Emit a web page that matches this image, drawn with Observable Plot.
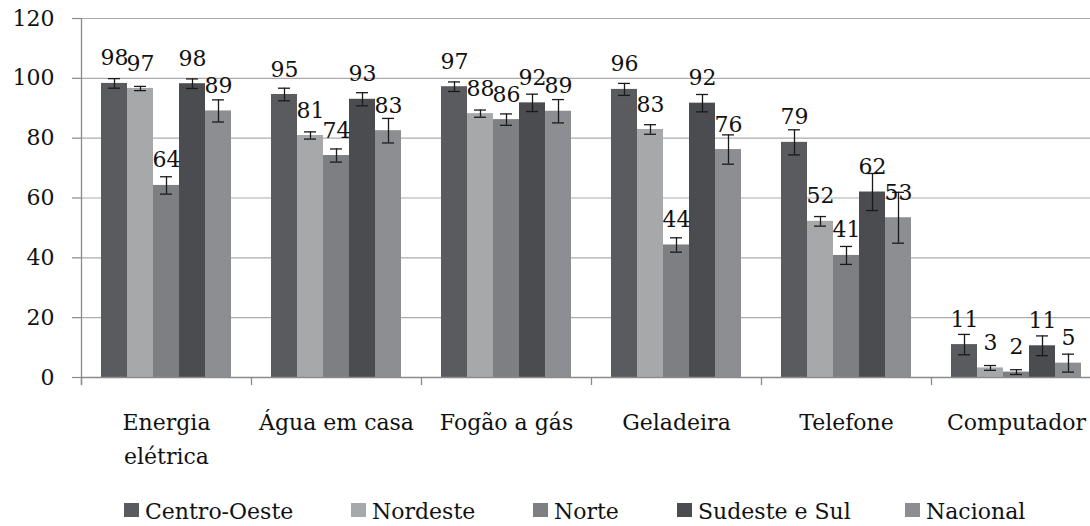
<!DOCTYPE html>
<html>
<head>
<meta charset="utf-8">
<script src="https://cdn.jsdelivr.net/npm/d3@7"></script>
<script src="https://cdn.jsdelivr.net/npm/@observablehq/plot@0.6"></script>
<style>
  html, body { margin: 0; padding: 0; background: #fff; overflow: hidden; width: 1090px; height: 526px; position: relative; }
  #chart { position: absolute; left: 0; top: 0; }
  #chart svg { display: block; }
  #legend { position: absolute; left: 0; top: 499px; width: 1090px; height: 27px; font-family: "DejaVu Serif", serif; font-size: 22px; line-height: 26px; color: #111; }
  #legend .item { position: absolute; top: 0; white-space: nowrap; }
  #legend .sw { position: absolute; left: 0; top: 4px; width: 15px; height: 14px; }
  #legend .tx { position: absolute; left: 21px; top: 0; }
</style>
</head>
<body>
<div id="chart"></div>
<div id="legend"></div>
<script>
const categories = ["Energia\nelétrica", "Água em casa", "Fogão a gás", "Geladeira", "Telefone", "Computador"];
const regions = ["Centro-Oeste", "Nordeste", "Norte", "Sudeste e Sul", "Nacional"];
const regionColors = ["#5a5b5f", "#a7a8aa", "#7e7f83", "#4b4c50", "#8d8e92"];

// values per region, in category order
const centroOeste = [98.3, 94.6, 97.2, 96.3, 78.6, 11.0];
const nordeste    = [96.6, 80.9, 88.2, 82.9, 52.2, 3.2];
const norte       = [64.2, 74.2, 86.2, 44.3, 40.8, 1.8];
const sudesteSul  = [98.2, 93.0, 91.8, 91.7, 62.0, 10.6];
const nacional    = [89.1, 82.5, 89.0, 76.2, 53.4, 4.8];

// error bar half-widths per region
const errCentroOeste = [1.6, 2.1, 1.6, 2.0, 4.2, 3.4];
const errNordeste    = [0.7, 1.2, 1.2, 1.6, 1.6, 0.8];
const errNorte       = [2.9, 2.2, 1.9, 2.4, 3.0, 0.8];
const errSudesteSul  = [1.6, 2.2, 2.9, 2.9, 6.2, 3.3];
const errNacional    = [3.7, 4.1, 3.9, 4.9, 8.5, 3.0];

const yTicks = [0, 20, 40, 60, 80, 100, 120];

const seriesValues = [centroOeste, nordeste, norte, sudesteSul, nacional];
const seriesErrors = [errCentroOeste, errNordeste, errNorte, errSudesteSul, errNacional];

const rows = [];
categories.forEach((cat, i) => {
  regions.forEach((reg, j) => {
    const v = seriesValues[j][i], e = seriesErrors[j][i];
    rows.push({cat, region: reg, value: v, lo: v - e, hi: v + e, label: String(Math.round(v))});
  });
});

const font = "DejaVu Serif";
const axisGray = "#8a8a8a";
const gridGray = "#ababab";
const tickLen = 2.7; // in y units (~8px)

const chart = Plot.plot({
  width: 1102,
  height: 488,
  marginLeft: 81,
  marginRight: 1,
  marginTop: 18,
  marginBottom: 111,
  style: {fontFamily: font, fontSize: "22px", color: "#111", background: "#fff", maxWidth: "none", overflow: "visible"},
  fx: {domain: categories, padding: 0, label: null, round: false},
  x: {domain: regions, paddingInner: 0, paddingOuter: 0.769, round: false, axis: null},
  y: {domain: [0, 120], label: null},
  color: {domain: regions, range: regionColors},
  marks: [
    Plot.gridY(yTicks, {stroke: gridGray, strokeOpacity: 1, strokeWidth: 1.2}),
    Plot.axisY(yTicks, {tickSize: 9, tickPadding: 18, stroke: axisGray, strokeWidth: 1.2, fontSize: 22, fill: "#111", label: null}),
    Plot.barY(rows, {fx: "cat", x: "region", y: "value", fill: "region"}),
    Plot.ruleY([0], {stroke: axisGray, strokeWidth: 1.3}),
    // group separator ticks below the axis
    Plot.ruleX(categories, {fx: d => d, x: () => regions[0], y1: 0, y2: -tickLen, dx: -33, stroke: axisGray, strokeWidth: 1.3}),
    // vertical y-axis line
    Plot.ruleX([categories[0]], {fx: d => d, x: () => regions[0], y1: -tickLen, y2: 120, dx: -33, stroke: axisGray, strokeWidth: 1.3}),
    // error bars
    Plot.ruleX(rows, {fx: "cat", x: "region", y1: "lo", y2: "hi", stroke: "#1a1a1a", strokeWidth: 1.3}),
    Plot.tickY(rows, {fx: "cat", x: "region", y: "lo", stroke: "#1a1a1a", strokeWidth: 1.3, insetLeft: 7, insetRight: 7}),
    Plot.tickY(rows, {fx: "cat", x: "region", y: "hi", stroke: "#1a1a1a", strokeWidth: 1.3, insetLeft: 7, insetRight: 7}),
    // value labels
    Plot.text(rows, {fx: "cat", x: "region", y: "value", text: "label", dy: -25, fontSize: 22, fill: "#111"}),
    Plot.axisFx({anchor: "bottom", tickSize: 0, tickPadding: 28, lineHeight: 1.55, fontSize: 22, fill: "#111", label: null})
  ]
});
document.getElementById("chart").appendChild(chart);

const legendLefts = [124, 351, 533, 677, 905];
const legend = document.getElementById("legend");
regions.forEach((r, j) => {
  const item = document.createElement("div");
  item.className = "item";
  item.style.left = legendLefts[j] + "px";
  const sw = document.createElement("span");
  sw.className = "sw";
  sw.style.background = regionColors[j];
  const t = document.createElement("span");
  t.className = "tx";
  t.textContent = r;
  item.appendChild(sw);
  item.appendChild(t);
  legend.appendChild(item);
});
</script>
</body>
</html>
